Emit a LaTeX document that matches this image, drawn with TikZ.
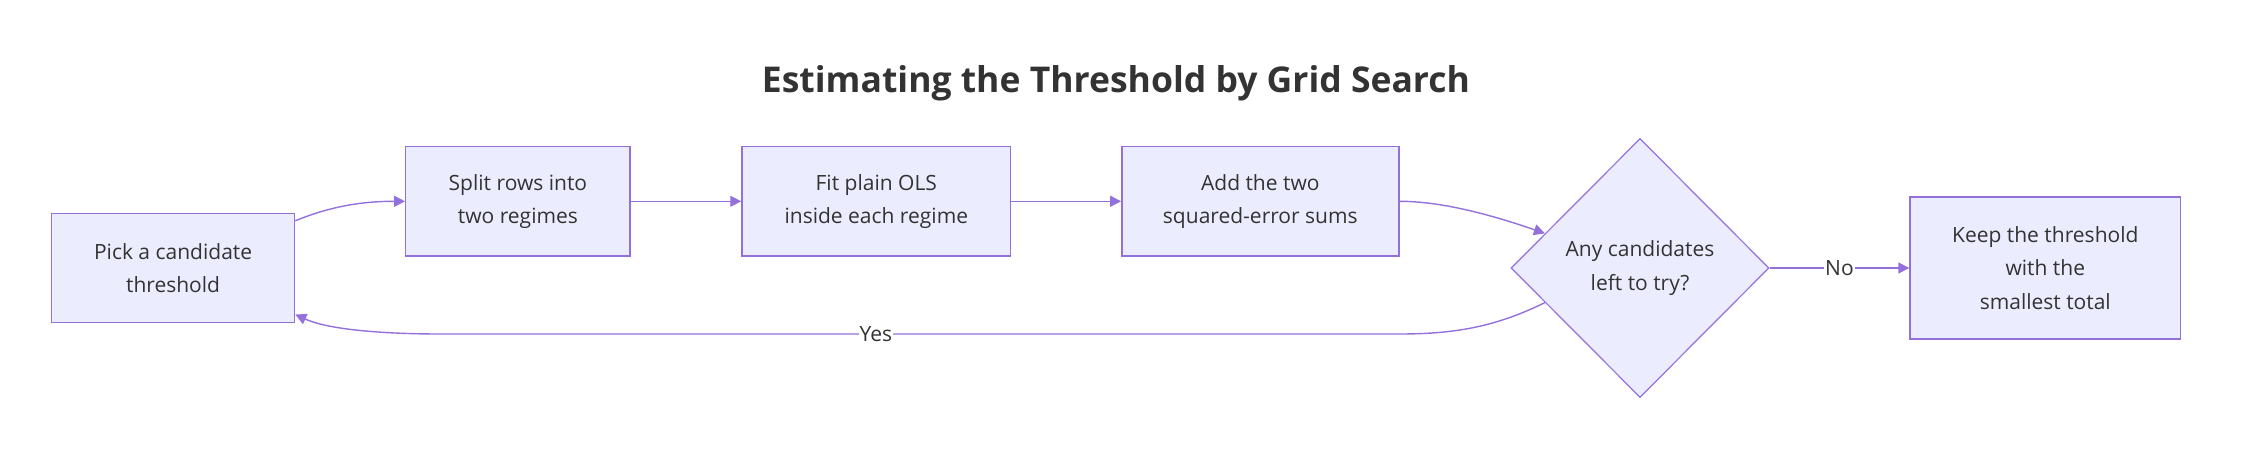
\documentclass[tikz,border=0pt]{standalone}
\usepackage{fontspec}
\setmainfont{Open Sans}
\usetikzlibrary{shapes.geometric,arrows.meta}
\definecolor{boxfill}{HTML}{ECECFF}
\definecolor{boxline}{HTML}{9370DB}
\definecolor{txt}{HTML}{333333}

\begin{document}
\begin{tikzpicture}[x=1pt,y=-1pt,line width=1.4pt,>={Triangle[length=11pt,width=11pt]},
        stepbox/.style={draw=boxline,fill=boxfill,text=txt,align=center,inner sep=0pt,font=\fontsize{21}{33.5}\selectfont},
        ask/.style={diamond,aspect=1,draw=boxline,fill=boxfill,text=txt,align=center,inner sep=0pt,line width=1.2pt,font=\fontsize{21}{33.5}\selectfont},
        link/.style={draw=boxline,->},
        lbl/.style={fill=white,text=txt,inner sep=1pt,font=\fontsize{21}{25}\selectfont}]
        \useasboundingbox (0,0) rectangle (2248,452);
        \node[text=txt,anchor=base,font=\fontsize{35.5}{40}\selectfont\bfseries] (title) at (1116,92.7) {Estimating the Threshold by Grid Search};
        \foreach \n/\x/\y/\w/\h/\t in {pick/173.1/268/243/109/{Pick a candidate\\threshold},split/517.9/201.3/224.3/109.3/{Split rows into\\two regimes},fit/876.3/201.3/268.7/109.3/{Fit plain OLS\\inside each regime},add/1260.3/201.3/277/109.3/{Add the two\\squared-error sums},keep/2045.3/268/270.6/142.3/{Keep the threshold\\with the\\smallest total}}{
            \node[stepbox,minimum width=\w pt,minimum height=\h pt] (\n) at (\x,\y) {\t};
        }
        \node[ask,minimum width=258pt,minimum height=259pt] (check) at (1640,268) {Any candidates\\left to try?};
        \coordinate (backR) at (1400,334);
        \coordinate (backL) at (440,334);
        \draw[link] ([yshift=-8pt]pick.north east) .. controls +(40.5,-16.7) and +(-36,0) .. (split.west);
        \draw[link] (split) -- (fit);
        \draw[link] (fit) -- (add);
        \draw[link] (add.east) .. controls +(41,0) and +(-55.7,-19.3) .. (check.160);
        \draw[link] (check.200) .. controls +(-45.7,22.3) and +(60,0) .. (backR) -- node[lbl,pos=0.546] (yes) {Yes} (backL) .. controls +(-50,0) and +(35,16) .. ([yshift=8.7pt]pick.south east);
        \draw[link] (check) -- node[lbl] (no) {No} (keep);
    \end{tikzpicture}
\end{document}
